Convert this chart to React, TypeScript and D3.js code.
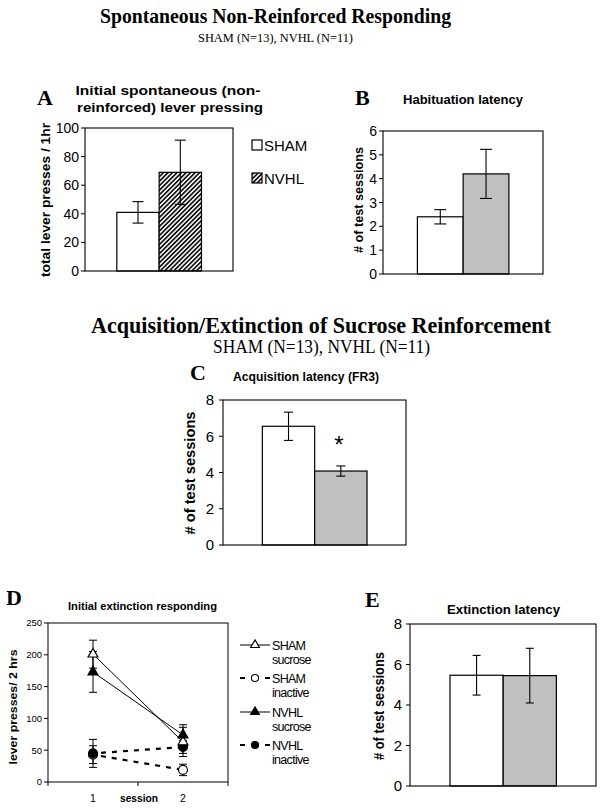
import React from "react";
import * as d3 from "d3";

const groups = ["SHAM", "NVHL"];
const aMeans = [41, 69];
const aErr = [7.5, 22.5];
const bMeans = [2.4, 4.2];
const bErr = [0.3, 1.03];
const cMeans = [6.55, 4.08];
const cErr = [0.78, 0.28];
const eMeans = [5.47, 5.45];
const eErr = [0.98, 1.35];
const aTicks = [0, 20, 40, 60, 80, 100];
const bTicks = [0, 1, 2, 3, 4, 5, 6];
const ceTicks = [0, 2, 4, 6, 8];

const dSessions = ["1", "2"];
const dTicks = [0, 50, 100, 150, 200, 250];
const shamSucrose = [201, 63];
const shamSucroseErr = [22, 23];
const shamInactive = [43, 19];
const shamInactiveErr = [14, 9];
const nvhlSucrose = [173, 74];
const nvhlSucroseErr = [32, 16];
const nvhlInactive = [45, 55];
const nvhlInactiveErr = [22, 10];

const SANS = "'Liberation Sans', Arial, sans-serif";
const SERIF = "'Liberation Serif', 'Times New Roman', serif";
const GRAY = "#c0c0c0";

type BarProps = {
  x0: number; x1: number; yTop: number; yBot: number;
  ticks: number[]; means: number[]; errs: number[]; fills: string[];
  cap: number; tickFont: number; labelGap: number;
};

function BarPanel(p: BarProps) {
  const max = p.ticks[p.ticks.length - 1];
  const y = d3.scaleLinear().domain([0, max]).range([p.yBot, p.yTop]);
  const w = p.x1 - p.x0;
  const x = d3.scaleBand().domain(groups).range([p.x0 + 0.215 * w, p.x0 + 0.787 * w]).padding(0);
  return (
    <g>
      {groups.map((g, i) => (
        <rect key={g} x={x(g)} y={y(p.means[i])} width={x.bandwidth()} height={p.yBot - y(p.means[i])}
          fill={p.fills[i]} stroke="#000" strokeWidth={1.2} />
      ))}
      {groups.map((g, i) => {
        const cx = (x(g) as number) + x.bandwidth() / 2;
        const lo = y(p.means[i] - p.errs[i]);
        const hi = y(p.means[i] + p.errs[i]);
        return (
          <g key={g} stroke="#000" strokeWidth={1.1}>
            <line x1={cx} x2={cx} y1={lo} y2={hi} />
            <line x1={cx - p.cap} x2={cx + p.cap} y1={lo} y2={lo} />
            <line x1={cx - p.cap} x2={cx + p.cap} y1={hi} y2={hi} />
          </g>
        );
      })}
      <rect x={p.x0} y={p.yTop} width={w} height={p.yBot - p.yTop} fill="none" stroke="#000" strokeWidth={1.1} />
      {p.ticks.map((t) => (
        <g key={t}>
          <line x1={p.x0 - 4} x2={p.x0} y1={y(t)} y2={y(t)} stroke="#000" strokeWidth={1} />
          <text x={p.x0 - p.labelGap} y={y(t)} dy="0.36em" textAnchor="end" fontFamily={SANS} fontSize={p.tickFont}>{t}</text>
        </g>
      ))}
    </g>
  );
}

function YLabel({ x, y, len, size, text }: { x: number; y: number; len: number; size: number; text: string }) {
  return (
    <text transform={`translate(${x},${y}) rotate(-90)`} textAnchor="middle" dy="0.36em" fontFamily={SANS}
      fontWeight="bold" fontSize={size} textLength={len} lengthAdjust="spacingAndGlyphs">{text}</text>
  );
}

function CTitle({ x, y, len, size, text, serif, bold = true }: { x: number; y: number; len: number; size: number; text: string; serif?: boolean; bold?: boolean }) {
  return (
    <text x={x} y={y} textAnchor="middle" fontFamily={serif ? SERIF : SANS} fontWeight={bold ? "bold" : "normal"}
      fontSize={size} textLength={len} lengthAdjust="spacingAndGlyphs">{text}</text>
  );
}

function Letter({ x, y, t }: { x: number; y: number; t: string }) {
  return <text x={x} y={y} fontFamily={SERIF} fontWeight="bold" fontSize={22}>{t}</text>;
}

function PanelD() {
  const x0 = 48, x1 = 228, yTop = 623, yBot = 782;
  const y = d3.scaleLinear().domain([0, 250]).range([yBot, yTop]);
  const x = d3.scalePoint().domain(dSessions).range([x0, x1]).padding(0.5);
  const tri = d3.symbol().type(d3.symbolTriangle).size(42)() as string;
  const triS = d3.symbol().type(d3.symbolTriangle).size(34)() as string;
  const circ = d3.symbol().type(d3.symbolCircle).size(62)() as string;
  const circS = d3.symbol().type(d3.symbolCircle).size(40)() as string;
  const series = [
    { v: shamInactive, e: shamInactiveErr, dash: true, sym: circ, fill: "#fff" },
    { v: nvhlInactive, e: nvhlInactiveErr, dash: true, sym: circ, fill: "#000" },
    { v: shamSucrose, e: shamSucroseErr, dash: false, sym: tri, fill: "#fff" },
    { v: nvhlSucrose, e: nvhlSucroseErr, dash: false, sym: tri, fill: "#000" },
  ];
  const line = d3.line<number>().x((_, i) => x(dSessions[i]) as number).y((d) => y(d));
  const legend = [
    { a: "SHAM", b: "sucrose", dash: false, sym: triS, fill: "#fff" },
    { a: "SHAM", b: "inactive", dash: true, sym: circS, fill: "#fff" },
    { a: "NVHL", b: "sucrose", dash: false, sym: triS, fill: "#000" },
    { a: "NVHL", b: "inactive", dash: true, sym: circS, fill: "#000" },
  ];
  const rowY = [645, 678, 712, 745];
  return (
    <g>
      <rect x={x0} y={yTop} width={x1 - x0} height={yBot - yTop} fill="none" stroke="#000" strokeWidth={1} />
      {dTicks.map((t) => (
        <g key={t}>
          <line x1={x0 - 4} x2={x0} y1={y(t)} y2={y(t)} stroke="#000" />
          <text x={x0 - 6} y={y(t)} dy="0.36em" textAnchor="end" fontFamily={SANS} fontSize={9.5}>{t}</text>
        </g>
      ))}
      <line x1={(x0 + x1) / 2} x2={(x0 + x1) / 2} y1={yBot} y2={yBot + 4} stroke="#000" />
      <line x1={x0} x2={x0} y1={yBot} y2={yBot + 4} stroke="#000" />
      <line x1={x1} x2={x1} y1={yBot} y2={yBot + 4} stroke="#000" />
      {dSessions.map((s) => (
        <text key={s} x={x(s)} y={802} textAnchor="middle" fontFamily={SANS} fontSize={10.5}>{s}</text>
      ))}
      <text x={139} y={802} textAnchor="middle" fontFamily={SANS} fontWeight="bold" fontSize={11.5} textLength={38} lengthAdjust="spacingAndGlyphs">session</text>
      {series.map((s, k) => (
        <path key={"l" + k} d={line(s.v) as string} fill="none" stroke="#000"
          strokeWidth={s.dash ? 2.2 : 1} strokeDasharray={s.dash ? "5 6" : undefined} strokeDashoffset={s.dash ? -8 : 0} />
      ))}
      {series.map((s, k) =>
        s.v.map((v, i) => {
          const cx = x(dSessions[i]) as number;
          const lo = y(v - s.e[i]);
          const hi = y(v + s.e[i]);
          return (
            <g key={k + "-" + i} stroke="#000" strokeWidth={1}>
              <line x1={cx} x2={cx} y1={lo} y2={hi} />
              <line x1={cx - 4} x2={cx + 4} y1={lo} y2={lo} />
              <line x1={cx - 4} x2={cx + 4} y1={hi} y2={hi} />
            </g>
          );
        })
      )}
      {series.map((s, k) =>
        s.v.map((v, i) => (
          <path key={"m" + k + i} d={s.sym} transform={`translate(${x(dSessions[i])},${y(v)})`} fill={s.fill} stroke="#000" strokeWidth={1.2} />
        ))
      )}
      {legend.map((l, i) => (
        <g key={i}>
          {l.dash ? (
            <g stroke="#000" strokeWidth={2}>
              <line x1={240} x2={245} y1={rowY[i]} y2={rowY[i]} />
              <line x1={265} x2={270} y1={rowY[i]} y2={rowY[i]} />
            </g>
          ) : (
            <line x1={240} x2={270} y1={rowY[i]} y2={rowY[i]} stroke="#000" strokeWidth={1} />
          )}
          <path d={l.sym} transform={`translate(255,${rowY[i]})`} fill={l.fill} stroke="#000" strokeWidth={1.1} />
          <text x={272} y={rowY[i] + 4.5} fontFamily={SANS} fontSize={12.5} letterSpacing={-0.7}>{l.a}</text>
          <text x={272} y={rowY[i] + 19} fontFamily={SANS} fontSize={12.5} letterSpacing={-0.7}>{l.b}</text>
        </g>
      ))}
    </g>
  );
}

export default function App() {
  return (
    <svg width={604} height={809} style={{ position: "absolute", left: 0, top: 0, background: "#fff" }}>
      <defs>
        <pattern id="hatch" patternUnits="userSpaceOnUse" width={3.2} height={3.2} patternTransform="rotate(45)">
          <rect width={3.2} height={3.2} fill="#fff" />
          <rect width={1.7} height={3.2} fill="#111" />
        </pattern>
      </defs>
      <rect width={604} height={809} fill="#fff" />

      <CTitle x={275.5} y={23} len={351} size={21.5} text="Spontaneous Non-Reinforced Responding" serif />
      <CTitle x={275.5} y={42} len={155} size={13.5} text="SHAM (N=13), NVHL (N=11)" serif bold={false} />

      {/* Panel A */}
      <Letter x={37} y={105} t="A" />
      <CTitle x={168} y={95} len={185} size={13.5} text="Initial spontaneous (non-" />
      <CTitle x={170} y={112} len={186} size={13.5} text="reinforced) lever pressing" />
      <BarPanel x0={85} x1={233} yTop={128} yBot={271} ticks={aTicks} means={aMeans} errs={aErr}
        fills={["#fff", "url(#hatch)"]} cap={5.5} tickFont={14} labelGap={6} />
      <YLabel x={45} y={200} len={154} size={13} text="total lever presses /  1hr" />
      <rect x={252} y={140} width={10} height={10} fill="#fff" stroke="#000" strokeWidth={1.2} />
      <text x={264} y={150.5} fontFamily={SANS} fontSize={15}>SHAM</text>
      <rect x={252} y={173} width={10} height={10} fill="url(#hatch)" stroke="#000" strokeWidth={1.2} />
      <text x={264} y={183.5} fontFamily={SANS} fontSize={15}>NVHL</text>

      {/* Panel B */}
      <Letter x={355} y={105} t="B" />
      <CTitle x={463} y={104} len={120} size={13} text="Habituation latency" />
      <BarPanel x0={383} x1={543} yTop={131} yBot={274} ticks={bTicks} means={bMeans} errs={bErr}
        fills={["#fff", GRAY]} cap={6} tickFont={14} labelGap={6} />
      <YLabel x={358} y={200} len={106} size={13} text="# of test sessions" />

      <CTitle x={321} y={333} len={460} size={23} text="Acquisition/Extinction of Sucrose Reinforcement" serif />
      <CTitle x={321.5} y={353} len={217} size={18} text="SHAM (N=13), NVHL (N=11)" serif bold={false} />

      {/* Panel C */}
      <Letter x={190} y={380} t="C" />
      <CTitle x={306} y={381} len={146} size={12.5} text="Acquisition latency (FR3)" />
      <BarPanel x0={223} x1={406} yTop={400} yBot={545} ticks={ceTicks} means={cMeans} errs={cErr}
        fills={["#fff", GRAY]} cap={4.5} tickFont={15} labelGap={9} />
      <YLabel x={190} y={473} len={123} size={15} text="# of test sessions" />
      <text x={339} y={453} textAnchor="middle" fontFamily={SANS} fontSize={24}>*</text>

      {/* Panel D */}
      <Letter x={6} y={605} t="D" />
      <CTitle x={142.5} y={610} len={149} size={11.5} text="Initial extinction responding" />
      <YLabel x={13} y={707} len={115} size={10.5} text="lever presses/ 2 hrs" />
      <PanelD />

      {/* Panel E */}
      <Letter x={365} y={607} t="E" />
      <CTitle x={503.5} y={614} len={113} size={12.5} text="Extinction latency" />
      <BarPanel x0={410} x1={596} yTop={624} yBot={786} ticks={ceTicks} means={eMeans} errs={eErr}
        fills={["#fff", GRAY]} cap={4} tickFont={15} labelGap={8} />
      <YLabel x={379} y={706} len={108} size={14} text="# of test sessions" />
    </svg>
  );
}
